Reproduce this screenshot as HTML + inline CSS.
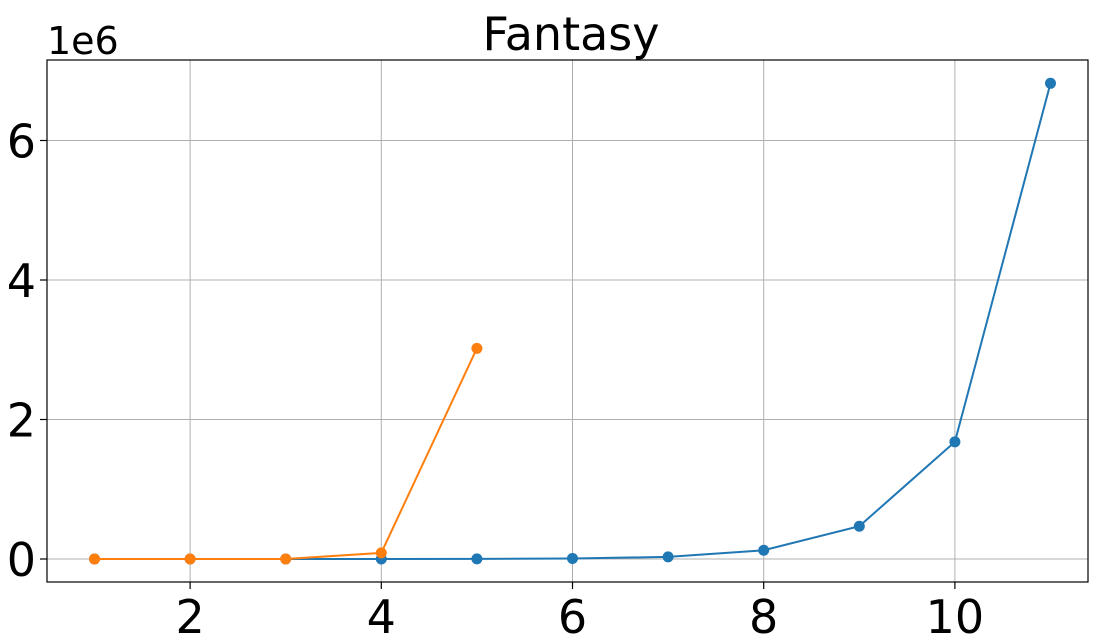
<!DOCTYPE html>
<html><head><meta charset="utf-8"><style>
body{margin:0;background:#fff;}
svg{display:block;font-family:"DejaVu Sans","Liberation Sans",sans-serif;}
</style></head><body>
<svg id="chart" width="1107" height="641"></svg>
<script>
const xTicks=[2,4,6,8,10];
const yTicks=[0,2,4,6];
const blueX=[1,2,3,4,5,6,7,8,9,10,11];
const blueY=[0,0,0,0,2000,8000,30000,125000,470000,1680000,6820000];
const orangeX=[1,2,3,4,5];
const orangeY=[0,0,500,88000,3020000];
const L=47,R=1088,T=60,B=582;
const sx=v=>94.5+(v-1)*95.6;
const sy=v=>559-v/1e6*69.75;
const svg=document.getElementById('chart');
const NS='http://www.w3.org/2000/svg';
function mk(t,a,p){const e=document.createElementNS(NS,t);for(const k in a)e.setAttribute(k,a[k]);(p||svg).appendChild(e);return e;}
const grid=mk('g',{});


xTicks.forEach(v=>{const l=mk('line',{x1:sx(v),x2:sx(v),y1:T,y2:B,stroke:'#b0b0b0','stroke-width':1},grid);
const t=mk('text',{x:sx(v),y:633,'text-anchor':'middle','font-size':46,fill:'#000'});t.textContent=v;
mk('line',{x1:sx(v),x2:sx(v),y1:B,y2:B+7,stroke:'#000','stroke-width':1.2});});
yTicks.forEach(v=>{const l=mk('line',{x1:L,x2:R,y1:sy(v*1e6),y2:sy(v*1e6),stroke:'#b0b0b0','stroke-width':1},grid);
const t=mk('text',{x:36,y:sy(v*1e6)+17,'text-anchor':'end','font-size':46,fill:'#000'});t.textContent=v;
mk('line',{x1:L-7,x2:L,y1:sy(v*1e6),y2:sy(v*1e6),stroke:'#000','stroke-width':1.2});});
function series(xs,ys,c,name){const g=mk('g',{});
mk('polyline',{points:xs.map((x,i)=>sx(x)+','+sy(ys[i])).join(' '),fill:'none',stroke:c,'stroke-width':2},g);
xs.forEach((x,i)=>{const p=mk('circle',{cx:sx(x),cy:sy(ys[i]),r:5.5,fill:c},g);});}
series(blueX,blueY,'#1f77b4','blue-series');
series(orangeX,orangeY,'#ff7f0e','orange-series');
const fr=mk('rect',{x:L,y:T,width:R-L,height:B-T,fill:'none',stroke:'#000','stroke-width':1.2});

const ti=mk('text',{x:571,y:50,'text-anchor':'middle','font-size':46,fill:'#000'});ti.textContent='Fantasy';

const ex=mk('text',{x:47,y:54,'font-size':38,fill:'#000'});ex.textContent='1e6';

</script>
</body></html>
